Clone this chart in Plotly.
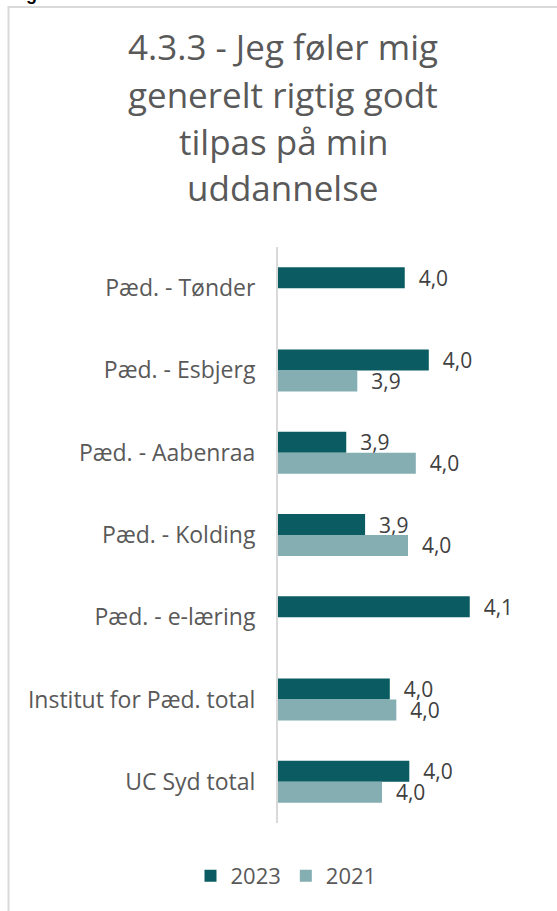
import plotly.graph_objects as go

categories = ["Pæd. - Tønder", "Pæd. - Esbjerg", "Pæd. - Aabenraa", "Pæd. - Kolding",
              "Pæd. - e-læring", "Institut for Pæd. total", "UC Syd total"]
values_2023 = [3.995, 4.032, 3.905, 3.934, 4.095, 3.972, 4.002]
values_2021 = [None, 3.922, 4.012, 4.0, None, 3.982, 3.96]
series_names = ["2023", "2021"]
colors = ["#0b5c62", "#84aeb1"]
title_lines = ["4.3.3 - Jeg føler mig", "generelt rigtig godt", "tilpas på min", "uddannelse"]

W, H = 557, 911
L, R, T, B = 278, 37, 247, 88
PW, PH = W - L - R, H - T - B

def px_x(p):
    return (p - L) / PW

def px_y(p):
    return (H - B - p) / PH

font_family = "'Open Sans', 'Noto Sans', sans-serif"
nb = "\u00a0"

fig = go.Figure()
for name, vals, col in zip(series_names, [values_2023, values_2021], colors):
    fig.add_trace(go.Bar(
        y=categories, x=vals, name=name, orientation="h",
        marker=dict(color=col, line=dict(width=0)),
        texttemplate=nb * 2 + "%{x:.1f}", textposition="outside",
        constraintext="none",
        textfont=dict(size=21, color="#404040", family=font_family),
        cliponaxis=False,
    ))

title_baselines = [62, 110, 157, 203]
annotations = []
for line, base in zip(title_lines, title_baselines):
    annotations.append(dict(
        text=line, xref="paper", yref="paper", x=px_x(283), y=px_y(base + 10),
        xanchor="center", yanchor="bottom", showarrow=False,
        font=dict(size=35, color="#595959", family=font_family)))
annotations.append(dict(text="<b>Figur 4.3.3</b>", xref="paper", yref="paper",
                        x=px_x(8), y=px_y(6), xanchor="left", yanchor="bottom",
                        showarrow=False, font=dict(size=18, color="#000000", family="Arial")))

fig.update_layout(
    width=W, height=H,
    margin=dict(l=L, r=R, t=T, b=B),
    paper_bgcolor="white", plot_bgcolor="white",
    separators=",.",
    barmode="group", bargap=0.49, bargroupgap=0,
    font=dict(family=font_family, color="#595959"),
    xaxis=dict(visible=False, range=[3.8, 3.8 + PW / 650], showgrid=False, zeroline=False),
    yaxis=dict(autorange="reversed", showline=True, linecolor="#d9d9d9", linewidth=2,
               showgrid=False, ticks="", ticklabelstandoff=16, automargin=False,
               tickfont=dict(size=23, color="#595959", family=font_family)),
    legend=dict(orientation="h", x=286 / W, xanchor="center", xref="container",
                y=35 / H, yanchor="middle", yref="container",
                font=dict(size=22, color="#595959", family=font_family),
                traceorder="normal", itemwidth=30),
    shapes=[dict(type="rect", xref="paper", yref="paper",
                 x0=px_x(8.5), x1=px_x(570), y0=px_y(7), y1=px_y(930),
                 line=dict(color="#d9d9d9", width=2), fillcolor="rgba(0,0,0,0)", layer="below")],
    annotations=annotations,
)

fig.write_html("out.html", config={"displayModeBar": False},
               post_script="document.body.style.margin='0';")
